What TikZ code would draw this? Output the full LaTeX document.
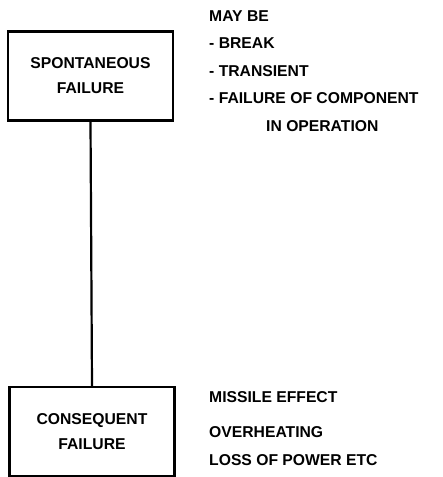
\documentclass[tikz,border=0pt]{standalone}
\usepackage{fontspec}
\setmainfont{Liberation Sans}
\begin{document}
\begin{tikzpicture}[x=1pt,y=-1pt,
  boxstyle/.style={draw, line width=2.2pt, minimum width=165pt, inner sep=0pt},
  lbl/.style={font=\bfseries\fontsize{15.7}{18}\selectfont, anchor=west, inner sep=0pt},
  boxlbl/.style={font=\bfseries\fontsize{15.7}{25}\selectfont, align=center, inner sep=0pt},
  link/.style={line width=2.2pt}]
\useasboundingbox (0,0) rectangle (443,477);
\node[boxstyle, minimum height=89pt] (spont) at (90.5,76) {};
\node[boxstyle, minimum height=89pt] (conseq) at (92,431.5) {};
\node[boxlbl] (spontlbl) at (spont.center) {SPONTANEOUS\\FAILURE};
\node[boxlbl] (conseqlbl) at (conseq.center) {CONSEQUENT\\FAILURE};
\draw[link] (spont.south) -- (conseq.north);
\node[lbl] (t1) at (209,16) {MAY BE};
\node[lbl] (t2) at (209,43) {- BREAK};
\node[lbl] (t3) at (209,71) {- TRANSIENT};
\node[lbl] (t4) at (209,98) {- FAILURE OF COMPONENT};
\node[lbl] (t5) at (266,126) {IN OPERATION};
\node[lbl] (b1) at (209,397) {MISSILE EFFECT};
\node[lbl] (b2) at (209,432) {OVERHEATING};
\node[lbl] (b3) at (209,460) {LOSS OF POWER ETC};
\end{tikzpicture}
\end{document}
